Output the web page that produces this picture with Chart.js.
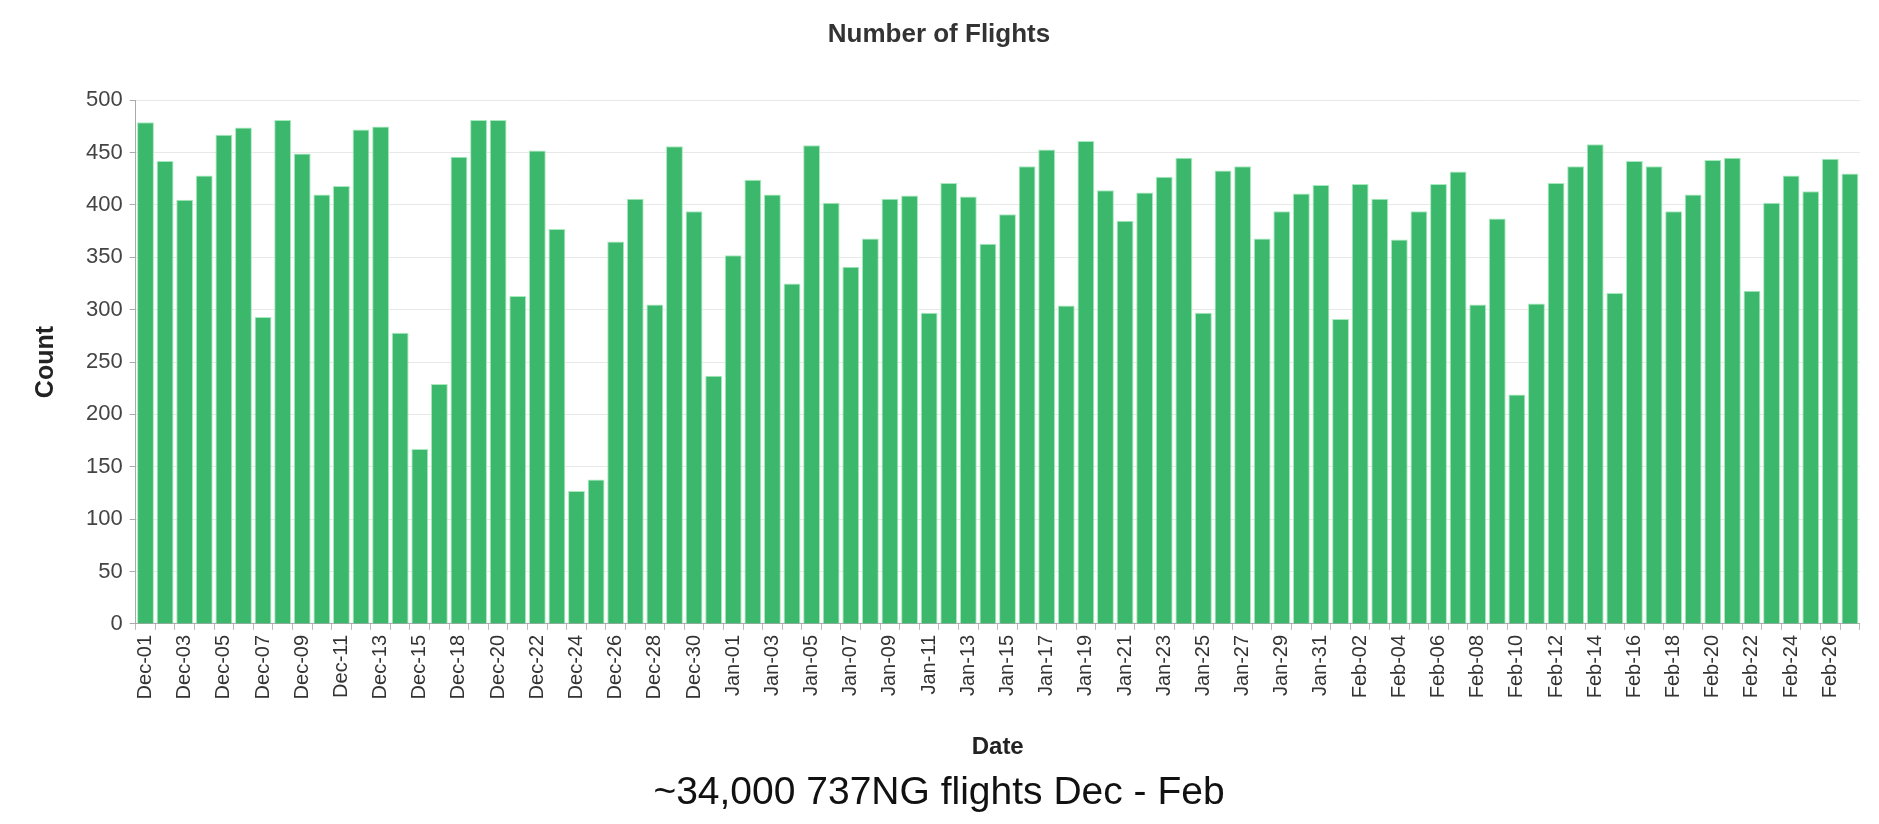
<!DOCTYPE html>
<html>
<head>
<meta charset="utf-8">
<script src="https://cdn.jsdelivr.net/npm/chart.js@4"></script>
<style>
  html, body { margin: 0; padding: 0; background: #fff; }
  #wrap { position: relative; width: 1879px; height: 824px; }
</style>
</head>
<body>
<div id="wrap"><canvas id="flights-chart"></canvas></div>
<script>
// ── data ────────────────────────────────────────────────────────────────
// one bar per day, Dec-17 has no data in the source
const decDates = ['Dec-01','Dec-02','Dec-03','Dec-04','Dec-05','Dec-06','Dec-07','Dec-08','Dec-09','Dec-10',
  'Dec-11','Dec-12','Dec-13','Dec-14','Dec-15','Dec-16','Dec-18','Dec-19','Dec-20','Dec-21',
  'Dec-22','Dec-23','Dec-24','Dec-25','Dec-26','Dec-27','Dec-28','Dec-29','Dec-30','Dec-31'];
const decCounts = [479, 442, 405, 428, 467, 474, 293, 481, 449, 410,
  418, 472, 475, 278, 167, 229, 446, 481, 481, 313,
  452, 377, 127, 138, 365, 406, 305, 456, 394, 237];

const janDates = ['Jan-01','Jan-02','Jan-03','Jan-04','Jan-05','Jan-06','Jan-07','Jan-08','Jan-09','Jan-10',
  'Jan-11','Jan-12','Jan-13','Jan-14','Jan-15','Jan-16','Jan-17','Jan-18','Jan-19','Jan-20',
  'Jan-21','Jan-22','Jan-23','Jan-24','Jan-25','Jan-26','Jan-27','Jan-28','Jan-29','Jan-30','Jan-31'];
const janCounts = [352, 424, 410, 325, 457, 402, 341, 368, 406, 409,
  297, 421, 408, 363, 391, 437, 453, 304, 461, 414,
  385, 412, 427, 445, 297, 433, 437, 368, 394, 411, 419];

const febDates = ['Feb-01','Feb-02','Feb-03','Feb-04','Feb-05','Feb-06','Feb-07','Feb-08','Feb-09','Feb-10',
  'Feb-11','Feb-12','Feb-13','Feb-14','Feb-15','Feb-16','Feb-17','Feb-18','Feb-19','Feb-20',
  'Feb-21','Feb-22','Feb-23','Feb-24','Feb-25','Feb-26','Feb-27'];
const febCounts = [291, 420, 406, 367, 394, 420, 432, 305, 387, 219,
  306, 421, 437, 458, 316, 442, 437, 394, 410, 443,
  445, 318, 402, 428, 413, 444, 430];

const yTicks = [0, 50, 100, 150, 200, 250, 300, 350, 400, 450, 500];

const dates  = [...decDates, ...janDates, ...febDates];
const counts = [...decCounts, ...janCounts, ...febCounts];

// ── chart ───────────────────────────────────────────────────────────────
const FONT = "'Liberation Sans', Arial, Helvetica, sans-serif";
Chart.defaults.font.family = FONT;
Chart.defaults.animation = false;

new Chart(document.getElementById('flights-chart'), {
  type: 'bar',
  data: {
    labels: dates,
    datasets: [{
      data: counts,
      backgroundColor: '#3bb86b',
      borderColor: '#a6eabd',
      borderWidth: 1,
      barPercentage: 0.86,
      categoryPercentage: 1.0
    }]
  },
  options: {
    responsive: true, maintainAspectRatio: false,
    layout: { padding: { top: 10, left: 13, right: 14, bottom: 7 } },
    plugins: {
      legend: { display: false },
      tooltip: { enabled: false },
      title: {
        display: true, text: 'Number of Flights', color: '#333',
        font: { size: 26, weight: 'bold' }, padding: { top: 9, bottom: 50 }
      },
      subtitle: {
        display: true, position: 'bottom', text: '~34,000 737NG flights Dec - Feb', color: '#111',
        font: { size: 39, weight: 'normal' }, padding: { top: 4, bottom: 0 }
      }
    },
    scales: {
      x: {
        ticks: {
          autoSkip: false, maxRotation: 90, minRotation: 90, padding: 5,
          color: '#333', font: { size: 20 },
          callback: (v, i) => (i % 2 === 0 ? dates[i] : '')
        },
        grid: { drawOnChartArea: false, drawTicks: true, tickLength: 6, color: '#bbb' },
        border: { display: true, color: '#aaa' },
        title: { display: true, text: 'Date', color: '#222', font: { size: 24, weight: 'bold' }, padding: { top: 29, bottom: 4 } }
      },
      y: {
        min: 0, max: 500,
        afterBuildTicks: s => { s.ticks = yTicks.map(v => ({ value: v })); },
        ticks: { color: '#444', font: { size: 22 }, padding: 7 },
        grid: { color: '#e8e8e8', tickLength: 6, tickColor: '#aaa' },
        border: { display: true, color: '#aaa' },
        title: { display: true, text: 'Count', color: '#222', font: { size: 25, weight: 'bold' }, padding: 18 }
      }
    }
  }
});
</script>
</body>
</html>
